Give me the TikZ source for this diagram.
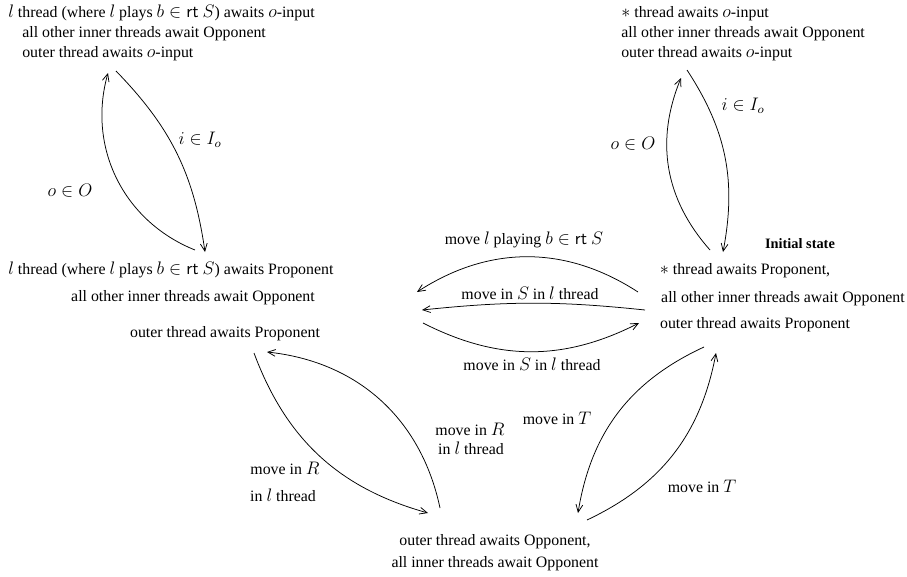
\documentclass[tikz,border=0pt]{standalone}
\usepackage{fontspec}
\setmainfont{Liberation Serif}
\DeclareMathSizes{10.5}{11.8}{8.5}{6.5}
\usetikzlibrary{arrows.meta}
\tikzset{
  st/.style={inner sep=0pt, text height=1.5ex, text depth=.25ex},
  lbl/.style={inner sep=0pt, text height=1.5ex, text depth=.25ex},
  mv/.style={->, line width=0.5pt}
}
\begin{document}
\begin{tikzpicture}[x=0.662pt, y=-0.662pt, >={Straight Barb[length=5pt,width=4.5pt]},
  font=\fontsize{10.5}{13}\selectfont]
\useasboundingbox (0,0) rectangle (907,576);
% states
\node[st, anchor=west] (ta1) at (8,13) {$l$ thread (where $l$ plays $b\in\mathsf{rt}\ S$) awaits $o$-input};
\node[st, anchor=west] (ta2) at (22,33) {all other inner threads await Opponent};
\node[st, anchor=west] (ta3) at (22,53) {outer thread awaits $o$-input};
\node[st, anchor=west] (tb1) at (621,13) {$*$ thread awaits $o$-input};
\node[st, anchor=west] (tb2) at (621,33) {all other inner threads await Opponent};
\node[st, anchor=west] (tb3) at (621,53) {outer thread awaits $o$-input};
\node[st, anchor=west] (ma1) at (8,270) {$l$ thread (where $l$ plays $b\in\mathsf{rt}\ S$) awaits Proponent};
\node[st] (ma2) at (193,297) {all other inner threads await Opponent};
\node[st] (ma3) at (225,333) {outer thread awaits Proponent};
\node[st, font=\fontsize{9.5}{11}\selectfont\bfseries] (init) at (800,244) {Initial state};
\node[st] (mb1) at (745,270) {$*$ thread awaits Proponent,};
\node[st] (mb2) at (783,298) {all other inner threads await Opponent};
\node[st] (mb3) at (755,324) {outer thread awaits Proponent};
\node[st] (bo1) at (495,541) {outer thread awaits Opponent,};
\node[st] (bo2) at (495,563) {all inner threads await Opponent};
% ends of the arrows
\coordinate (ta-in) at (108,73);
\coordinate (ta-out) at (116,71);
\coordinate (ma-in) at (205,252);
\coordinate (ma-out) at (195,250);
\coordinate (tb-in) at (681,78);
\coordinate (tb-out) at (687,70);
\coordinate (mb-in) at (723,252);
\coordinate (mb-out) at (710,250);
\draw[mv] (ma-out) to[bend left=42] (ta-in);
\draw[mv] (ta-out) to[bend left=18] (ma-in);
\draw[mv] (mb-out) to[bend left=32] (tb-in);
\draw[mv] (tb-out) to[bend left=22] (mb-in);
\node[lbl] (io1) at (200,140) {$i\in I_o$};
\node[lbl] (oo1) at (70,192) {$o\in O$};
\node[lbl] (io2) at (743,106) {$i\in I_o$};
\node[lbl] (oo2) at (633,145) {$o\in O$};
% middle
\coordinate (m1) at (638,292);
\coordinate (m2) at (417,292);
\coordinate (m3) at (645,310);
\coordinate (m4) at (422,310);
\coordinate (m5) at (423,323);
\coordinate (m6) at (639,323);
\draw[mv] (m1) to[bend right=33] (m2);
\draw[mv] (m3) to[bend right=6] (m4);
\draw[mv] (m5) to[bend right=27] (m6);
\node[lbl] (play) at (524,240) {move $l$ playing $b\in\mathsf{rt}\ S$};
\node[lbl] (sl1) at (530,295) {move in $S$ in $l$ thread};
\node[lbl] (sl2) at (532,366) {move in $S$ in $l$ thread};
% lower
\coordinate (r1) at (254,353);
\coordinate (r2) at (428,513);
\coordinate (r3) at (440,508);
\coordinate (r4) at (267,352);
\draw[mv] (r1) to[bend right=27] (r2);
\draw[mv] (r3) to[bend right=36] (r4);
\node[lbl] (ra1) at (285,470) {move in $R$};
\node[lbl] (ra2) at (283,497) {in $l$ thread};
\node[lbl] (rb1) at (470,431) {move in $R$};
\node[lbl] (rb2) at (471,450) {in $l$ thread};
\coordinate (t1) at (704,347);
\coordinate (t2) at (578,513);
\coordinate (t3) at (587,520);
\coordinate (t4) at (716,353);
\draw[mv] (t1) to[bend right=28] (t2);
\draw[mv] (t3) to[bend right=27] (t4);
\node[lbl] (ta) at (557,420) {move in $T$};
\node[lbl] (tb) at (702,488) {move in $T$};
\end{tikzpicture}
\end{document}
